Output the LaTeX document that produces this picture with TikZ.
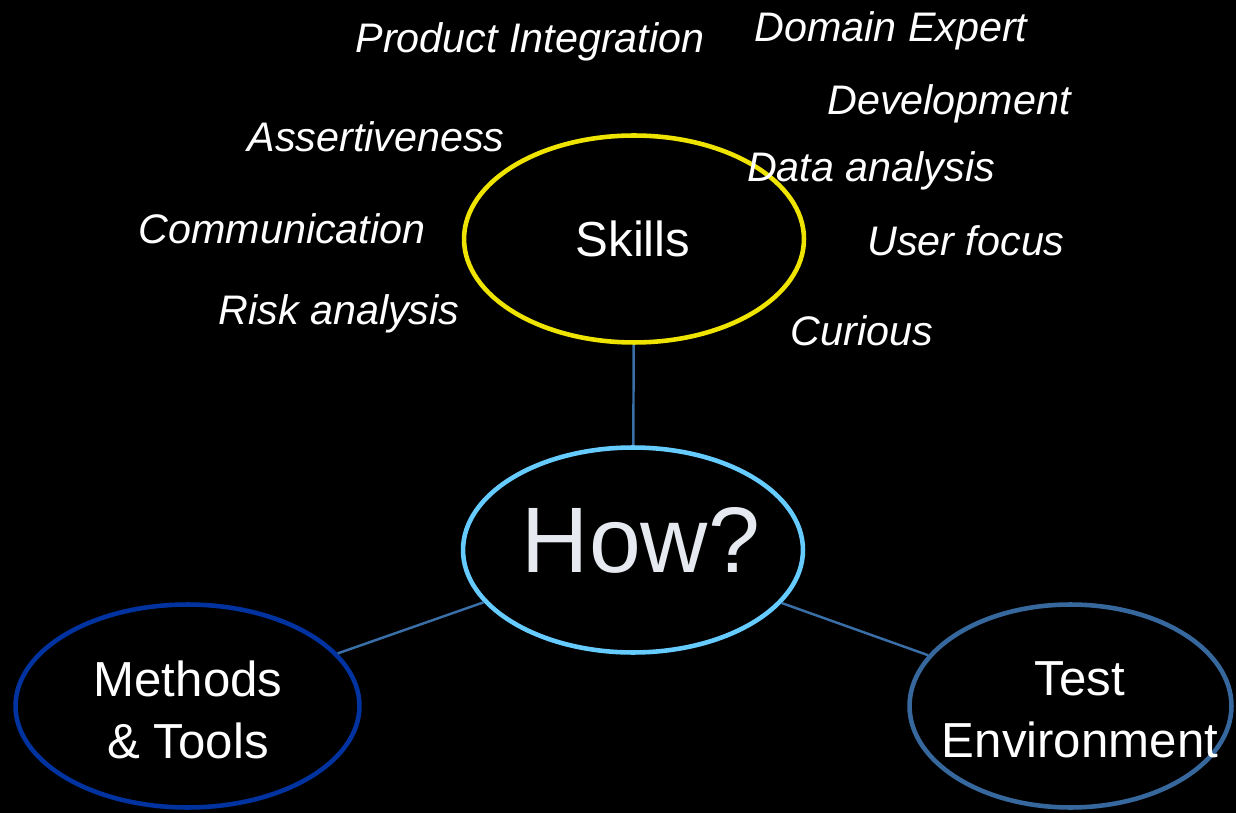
\documentclass[tikz,border=0pt]{standalone}
\usepackage{fontspec}
\setmainfont{Liberation Sans}
\usetikzlibrary{shapes.geometric}

\definecolor{skillyellow}{RGB}{238,228,0}
\definecolor{howblue}{RGB}{102,204,255}
\definecolor{methodblue}{RGB}{0,51,160}
\definecolor{testblue}{RGB}{54,104,158}
\definecolor{linkblue}{RGB}{58,110,166}
\definecolor{howtext}{RGB}{230,234,240}

\tikzset{
  skill/.style={text=white, font=\fontsize{23.5}{28}\selectfont\itshape, anchor=base, inner sep=0pt},
  area/.style={ellipse, line width=2.6pt, inner sep=0pt},
  areatext/.style={text=white, align=center, inner sep=0pt, font=\fontsize{28}{35.3}\selectfont},
  link/.style={draw=linkblue, line width=1.4pt}
}

\begin{document}
\begin{tikzpicture}[x=0.02cm, y=-0.02cm]
    \fill[black] (0,0) rectangle (1236,813);
    \useasboundingbox (0,0) rectangle (1236,813);

    % the four areas
    \node[area, draw=skillyellow, minimum width=6.8cm, minimum height=4.14cm] (skills) at (634,239) {};
    \node[area, draw=howblue, minimum width=6.8cm, minimum height=4.1cm] (how) at (633,550) {};
    \node[area, draw=methodblue, minimum width=6.88cm, minimum height=4.06cm] (methods) at (187.5,706) {};
    \node[area, draw=testblue, minimum width=6.44cm, minimum height=4.06cm] (test) at (1070.5,706) {};

    \node[areatext] (skillstext) at (633,239) {Skills};
    \node[areatext, text=howtext, font=\fontsize{53}{60}\selectfont, anchor=base] (howtext) at (641,572) {How?};
    \node[areatext] (methodstext) at (188,710) {Methods\\\& Tools};
    \node[areatext] (testtext) at (1080,710) {Test\\Environment};

    \draw[link] (skills) -- (how);
    \draw[link] (how) -- (methods);
    \draw[link] (how) -- (test);

    % skills around the top
    \node[skill] (integration) at (530,53) {Product Integration};
    \node[skill] (expert) at (891,42) {Domain Expert};
    \node[skill] (development) at (949,115) {Development};
    \node[skill] (assertive) at (376,152) {Assertiveness};
    \node[skill] (dataan) at (871,182) {Data analysis};
    \node[skill] (communication) at (282,244) {Communication};
    \node[skill] (userfocus) at (966,256) {User focus};
    \node[skill] (riskan) at (339,325) {Risk analysis};
    \node[skill] (curious) at (862,346) {Curious};
\end{tikzpicture}
\end{document}
